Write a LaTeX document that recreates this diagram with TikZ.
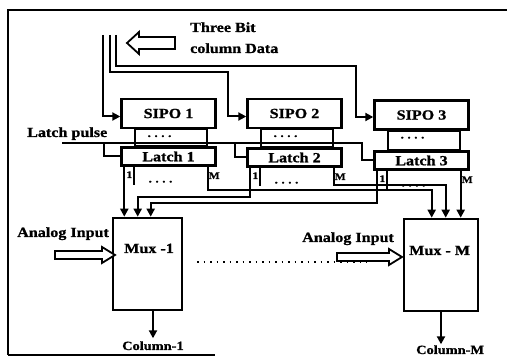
\documentclass[tikz,border=0pt]{standalone}
\usepackage{fontspec}
\setmainfont{Liberation Serif}[FakeStretch=1.15,BoldFeatures={FakeBold=1}]
\usetikzlibrary{arrows.meta,calc}
\begin{document}
\begin{tikzpicture}[x=1pt,y=-1pt,
  txt/.style={inner sep=0pt,font=\fontsize{14}{14}\selectfont\bfseries},
  small/.style={inner sep=0pt,font=\fontsize{10}{10}\selectfont\bfseries},
  coltxt/.style={inner sep=0pt,font=\fontsize{12.5}{12.5}\selectfont\bfseries},
  sipobox/.style={draw,line width=2.4pt,inner sep=0pt,minimum width=94pt,minimum height=29pt,txt},
  latchbox/.style={draw,line width=2.4pt,inner sep=0pt,minimum width=94pt,minimum height=18pt,txt},
  muxbox/.style={draw,line width=2.6pt,inner sep=0pt,minimum height=92pt},
  wire/.style={line width=2pt},
  arr/.style={wire,-{Triangle[length=8pt,width=8pt]}},
  hollow/.style={draw,line width=1.8pt,fill=white,line join=miter},
  dotrow/.style={inner sep=0pt,font=\fontsize{11}{11}\selectfont\bfseries}
]
\useasboundingbox (0,0) rectangle (507,358);

% frame (as scanned)
\draw[line width=2.8pt] (8,355) -- (8,10) -- (507,10);
\draw[line width=1.8pt] (8,355) -- (215,355);

% boxes
\node[sipobox] (sipo1) at (168.5,113.5) {SIPO 1};
\node[sipobox] (sipo2) at (294.5,113.5) {SIPO 2};
\node[sipobox] (sipo3) at (421.5,115) {SIPO 3};
\node[latchbox] (latch1) at (168.5,156.5) {Latch 1};
\node[latchbox] (latch2) at (294.5,157.5) {Latch 2};
\node[latchbox] (latch3) at (421.5,160.5) {Latch 3};
\node[muxbox,minimum width=69pt] (mux1) at (147.5,264) {};
\node[muxbox,minimum width=74pt] (muxM) at (441,265) {};
\node[txt,anchor=base west] (mux1t) at (124,253) {Mux -1};
\node[txt,anchor=base west] (muxMt) at (409,255) {Mux - M};

% SIPO -> latch parallel connections
\foreach \i in {1,2,3}{
  \draw[wire] ($(sipo\i.south west)+(6,0)$) -- ($(sipo\i.south west)+(6,0)$ |- latch\i.north);
  \draw[wire] ($(sipo\i.south west)+(15,0)$) rectangle ($(latch\i.north east)+(-10,0)$);
  \node[dotrow] at ($(sipo\i.south)+(-9,7)$) {.\,\,.\,\,.\,\,.};
}

% data input lines
\coordinate (d1) at (103,35);
\coordinate (d2) at (110,35);
\coordinate (d3) at (116,35);
\draw[arr] (d1) |- ([yshift=-3pt]sipo1.west);
\draw[arr] (d2) |- ($(sipo2.west)+(-18,-41)$) |- ([yshift=-3pt]sipo2.west);
\draw[arr] (d3) |- ($(sipo3.west)+(-17,-49)$) |- ([yshift=-2pt]sipo3.west);

% three bit hollow arrow and text
\draw[hollow] (127,43) -- (139,32) -- (139,37) -- (175,37) -- (175,49) -- (139,49) -- (139,54) -- cycle;
\node[txt,anchor=base west] (three) at (190,32) {Three Bit};
\node[txt,anchor=base west] (coldata) at (190,53) {column Data};

% latch pulse
\node[txt,anchor=base west] (lpulse) at (27,137) {Latch pulse};
\coordinate (lp0) at (62,143);
\coordinate (lpA) at (104,143);
\coordinate (lpB) at (235,143);
\coordinate (lpC) at (362,143);
\draw[wire] (lp0) -- (lpC) |- (latch3.west);
\draw[wire] (lpA) |- (latch1.west);
\draw[wire] (lpB) |- (latch2.west);

% latch outputs
\foreach \i in {1,2,3}{
  \coordinate (l\i o) at ($(latch\i.south west)+(4,0)$);
  \coordinate (l\i M) at ($(latch\i.south east)+(-9,0)$);
  \draw[wire] ($(latch\i.south west)+(14,0)$) -- ++(0,18);
  \node[small] at ($(latch\i.south west)+(9,8)$) {1};
  \node[small] at ($(latch\i.south east)+(-2.5,9)$) {M};
  \node[dotrow] at ($(latch\i.south)+(-8,15)$) {.\,\,.\,\,.\,\,.};
}
\coordinate (m1a) at ($(mux1.north west)+(13,0)$);
\coordinate (m1b) at ($(mux1.north west)+(26,0)$);
\coordinate (m1c) at ($(mux1.north west)+(39,0)$);
\coordinate (mMa) at ($(muxM.north west)+(29,0)$);
\coordinate (mMb) at ($(muxM.north west)+(43,0)$);
\coordinate (mMc) at ($(muxM.north west)+(56,0)$);

\draw[arr] (l1o) -- (l1o |- m1a);
\draw[arr] (l2o) |- ($(m1b)+(0,-20)$) -- (m1b);
\draw[arr] (l3o) |- ($(m1c)+(0,-14)$) -- (m1c);
\draw[arr] (l1M) |- ($(mMa)+(0,-28)$) -- (mMa);
\draw[arr] (l2M) |- ($(mMb)+(0,-33)$) -- (mMb);
\draw[arr] (l3M) -- (l3M |- mMc);

% analog inputs
\node[txt,anchor=base west] (ai1) at (17,237) {Analog Input};
\node[txt,anchor=base west] (ai2) at (302,242) {Analog Input};
\draw[hollow] (115,255) -- (102,247) -- (102,251) -- (55,251) -- (55,259) -- (102,259) -- (102,263) -- cycle;
\draw[hollow] (402,257) -- (389,249) -- (389,253) -- (337,253) -- (337,261) -- (389,261) -- (389,265) -- cycle;

% dotted continuation
\coordinate (dotA) at (197,262);
\coordinate (dotB) at (367,262);
\draw[line width=1.6pt,dash pattern=on 1.5pt off 5pt] (dotA) -- (dotB);

% outputs
\node[coltxt,anchor=base west] (col1) at (122,350) {Column-1};
\node[coltxt,anchor=base west] (colM) at (416,354) {Column-M};
\draw[arr] ($(mux1.south)+(5.5,0)$) -- ++(0,27);
\draw[arr] (muxM.south) -- ++(0,32);
\end{tikzpicture}
\end{document}
